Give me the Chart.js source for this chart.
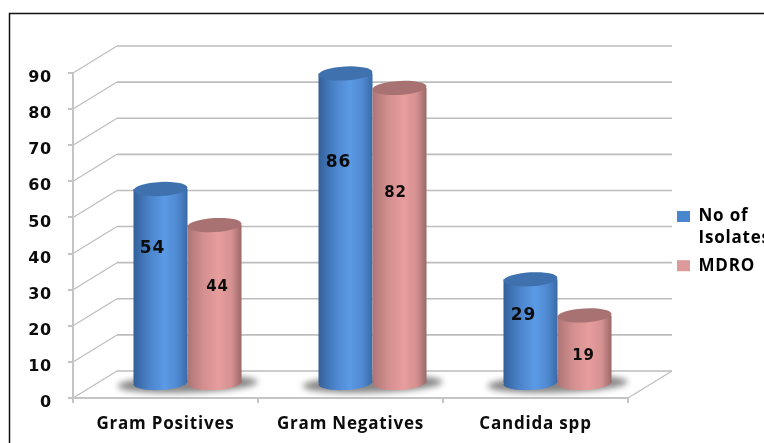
<!DOCTYPE html>
<html>
<head>
<meta charset="utf-8">
<style>
html, body { margin: 0; padding: 0; background: #fff; }
#wrap { width: 764px; height: 443px; position: relative; overflow: hidden; }
canvas { filter: blur(0.4px); }
</style>
<script src="https://cdn.jsdelivr.net/npm/chart.js@4"></script>
</head>
<body>
<div id="wrap"><canvas id="isolatesChart" width="764" height="443"></canvas></div>
<script>
var categories = ['Gram Positives', 'Gram Negatives', 'Candida spp'];
var isolates = [54, 86, 29];
var mdro = [44, 82, 19];
var yTicks = [0, 10, 20, 30, 40, 50, 60, 70, 80, 90];
var seriesNames = [['No of', 'Isolates'], 'MDRO'];

var FONT = '"DejaVu Sans", sans-serif';
var TEXT_FONT = '"Open Sans", sans-serif';
var groupPercent = 0.584;
var depthX = 44, depthY = -27;       // back wall offset
var barShiftX = 22, barShiftY = -14; // cylinders stand mid-floor

var blueStops = ['#33609a', '#4a82c8', '#5b9ae6', '#4f88d0', '#3a6aa6'];
var pinkStops = ['#ad7575', '#d28e8e', '#e89d9d', '#d49090', '#9c6868'];
var stopAt = [0, 0.28, 0.58, 0.82, 1];
var capColors = ['#3f71ae', '#a87272'];
var legendColors = ['#4a86d0', '#dc9a9a'];
var labelFonts = [17, 15];

// the value labels were dragged by hand in the original, offset from bar middle
var labelShift = [
    [[-8, -37], [-7, -66], [-7, -16]],
    [[3, -17], [-4, -42], [-1, 7]]
];

function barLeft(chart, dsIndex, i) {
    var x = chart.scales.x;
    var w = x.width / categories.length * groupPercent / 2;
    return { left: x.getPixelForValue(i) + (dsIndex - 1) * w, width: w };
}

function sideGradient(ctx, left, width, stops) {
    var g = ctx.createLinearGradient(left, 0, left + width, 0);
    stops.forEach(function(color, i) {
        g.addColorStop(stopAt[i], color);
    });
    return g;
}

function bodyFill(stops) {
    return function(c) {
        if (!c.chart.chartArea || c.dataIndex === undefined) return stops[2];
        var box = barLeft(c.chart, c.datasetIndex, c.dataIndex);
        return sideGradient(c.chart.ctx, box.left, box.width, stops);
    };
}

function capEllipse(ctx, x, y, rx) {
    ctx.beginPath();
    ctx.ellipse(x, y, rx, 7, -0.055, 0, Math.PI * 2);
    ctx.fill();
}

var wallPlugin = {
    id: 'wall',
    beforeDraw: function(chart) {
        var ctx = chart.ctx, a = chart.chartArea, ys = chart.scales.y;
        ctx.letterSpacing = '0.8px'; // reference type is stretched wide
        ctx.save();
        ctx.fillStyle = '#fff';
        ctx.fillRect(0, 0, chart.width, chart.height);

        ctx.strokeStyle = '#111';
        ctx.lineWidth = 1.5;
        ctx.strokeRect(9.5, 13.5, 800, 500);

        ctx.strokeStyle = '#bdbdbd';
        yTicks.forEach(function(v) {
            var y = ys.getPixelForValue(v);
            ctx.lineWidth = 1.2;
            ctx.beginPath();
            ctx.moveTo(a.left, y);
            ctx.lineTo(a.left + depthX, y + depthY);
            ctx.stroke();
            ctx.lineWidth = 1.6;
            ctx.beginPath();
            ctx.moveTo(a.left + depthX, y + depthY);
            ctx.lineTo(a.right + depthX, y + depthY);
            ctx.stroke();
        });
        ctx.lineWidth = 1.2;
        ctx.beginPath();
        ctx.moveTo(a.right, a.bottom);
        ctx.lineTo(a.right + depthX, a.bottom + depthY);
        ctx.stroke();
        ctx.restore();
    }
};

var cylinderPlugin = {
    id: 'cylinders',
    beforeDatasetsDraw: function(chart) {
        var ctx = chart.ctx;
        var metas = [chart.getDatasetMeta(0), chart.getDatasetMeta(1)];
        ctx.save();
        ctx.translate(barShiftX, barShiftY);

        // soft floor shadow under each pair
        metas[0].data.forEach(function(el, i) {
            var other = metas[1].data[i];
            ctx.save();
            ctx.filter = 'blur(3px)';
            ctx.fillStyle = '#858585';
            ctx.beginPath();
            ctx.ellipse((el.x + other.x) / 2, el.base + 1, el.width + 16, 8.5, -0.03, 0, Math.PI * 2);
            ctx.fill();
            ctx.restore();
        });

        metas.forEach(function(meta, ds) {
            var stops = ds === 0 ? blueStops : pinkStops;
            meta.data.forEach(function(el) {
                ctx.fillStyle = sideGradient(ctx, el.x - el.width / 2, el.width, stops);
                capEllipse(ctx, el.x, el.base, el.width / 2);
            });
            meta.controller.draw();
            meta.data.forEach(function(el) {
                ctx.fillStyle = capColors[ds];
                capEllipse(ctx, el.x, el.y, el.width / 2);
            });
        });

        // value labels
        ctx.fillStyle = '#0c0c0c';
        ctx.textAlign = 'center';
        ctx.textBaseline = 'middle';
        metas.forEach(function(meta, ds) {
            ctx.font = 'bold ' + labelFonts[ds] + 'px ' + FONT;
            var values = ds === 0 ? isolates : mdro;
            meta.data.forEach(function(el, i) {
                var shift = labelShift[ds][i];
                ctx.fillText(values[i], el.x + shift[0], (el.y + el.base) / 2 + shift[1]);
            });
        });
        ctx.restore();
        return false;
    },
    afterLayout: function(chart) {
        var legend = chart.legend;
        legend.left = 672;
        legend.right = 800;
        legend.top = 203;
        legend.bottom = 300;
    }
};

new Chart(document.getElementById('isolatesChart'), {
    type: 'bar',
    data: {
        labels: categories,
        datasets: [
            { label: 'No of Isolates', data: isolates, backgroundColor: bodyFill(blueStops), borderWidth: 0 },
            { label: 'MDRO', data: mdro, backgroundColor: bodyFill(pinkStops), borderWidth: 0 }
        ]
    },
    options: {
        responsive: false,
        animation: false,
        layout: { padding: { top: 73, right: 136, left: 0, bottom: 0 } },
        datasets: { bar: { barPercentage: 1, categoryPercentage: groupPercent } },
        plugins: {
            tooltip: { enabled: false },
            legend: {
                position: 'chartArea',
                align: 'start',
                labels: {
                    boxWidth: 13,
                    boxHeight: 11,
                    padding: 5,
                    color: '#0c0c0c',
                    font: { family: TEXT_FONT, size: 17, weight: 'bold', lineHeight: 1.3 },
                    generateLabels: function() {
                        return seriesNames.map(function(name, i) {
                            return { text: name, fillStyle: legendColors[i], lineWidth: 0, strokeStyle: 'transparent', datasetIndex: i };
                        });
                    }
                }
            }
        },
        scales: {
            x: {
                afterFit: function(scale) { scale.height = 45; },
                grid: { drawOnChartArea: false, tickLength: 5, color: '#c4c4c4', lineWidth: 2 },
                border: { color: '#c4c4c4', width: 2 },
                ticks: { color: '#0c0c0c', padding: 11, maxRotation: 0, font: { family: TEXT_FONT, size: 17, weight: 'bold' } }
            },
            y: {
                min: 0,
                max: 90,
                afterFit: function(scale) { scale.width = 73; },
                afterBuildTicks: function(scale) {
                    scale.ticks = yTicks.map(function(v) { return { value: v }; });
                },
                grid: { drawOnChartArea: false, tickLength: 5, color: '#c4c4c4', lineWidth: 2 },
                border: { color: '#c4c4c4', width: 2 },
                ticks: { color: '#0c0c0c', padding: 16, labelOffset: 5, font: { family: FONT, size: 16, weight: 'bold' } }
            }
        }
    },
    plugins: [wallPlugin, cylinderPlugin]
});
</script>
</body>
</html>
